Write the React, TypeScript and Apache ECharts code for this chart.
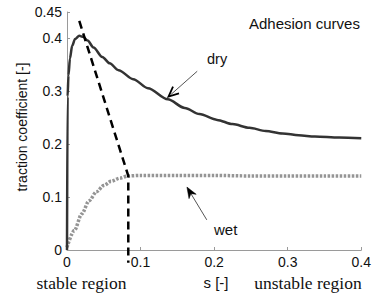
import React, { useEffect, useRef } from "react";
import * as echarts from "echarts";

// Dry adhesion curve (slip s, traction coefficient)
const drySlip = [0, 0.0008, 0.002, 0.004, 0.007, 0.011, 0.0167, 0.022, 0.028, 0.036, 0.048, 0.058, 0.07, 0.09, 0.11, 0.137, 0.16, 0.18, 0.204, 0.225, 0.248, 0.27, 0.293, 0.315, 0.337, 0.37, 0.4];
const dryTraction = [0, 0.29, 0.33, 0.362, 0.386, 0.399, 0.405, 0.403, 0.396, 0.383, 0.365, 0.353, 0.34, 0.323, 0.306, 0.285, 0.2685, 0.257, 0.246, 0.238, 0.231, 0.225, 0.2205, 0.217, 0.2145, 0.2125, 0.2115];

// Wet adhesion curve
const wetSlip = [0, 0.01, 0.02, 0.03, 0.04, 0.05, 0.06, 0.072, 0.083, 0.1, 0.15, 0.2, 0.25, 0.3, 0.35, 0.4];
const wetTraction = [0.005, 0.037, 0.068, 0.093, 0.11, 0.122, 0.13, 0.136, 0.14, 0.141, 0.141, 0.141, 0.14, 0.14, 0.14, 0.14];

// Stable / unstable boundary (dashed)
const boundarySlip = [0.0167, 0.0833, 0.0833];
const boundaryTraction = [0.433, 0.14, -0.024];

// Axis ticks
const xTicks = { min: 0, max: 0.4, interval: 0.1 };
const yTicks = { min: 0, max: 0.45, interval: 0.1 };

// Annotation arrows in data units: [tail, tip]
const dryArrow = [[0.177, 0.338], [0.138, 0.29]];
const wetArrow = [[0.19, 0.057], [0.163, 0.119]];

const SANS = "Liberation Sans, Arial, sans-serif";
const SERIF = "Liberation Serif, Times New Roman, serif";

function zip(a: number[], b: number[]) {
  return a.map((v, i) => [v, b[i]]);
}

function arrowHead(tail: number[], tip: number[], filled: boolean) {
  const dx = tip[0] - tail[0];
  const dy = tip[1] - tail[1];
  const len = Math.hypot(dx, dy);
  const ux = dx / len;
  const uy = dy / len;
  const L = filled ? 11 : 10;
  const W = filled ? 4.2 : 4.5;
  const bx = tip[0] - ux * L;
  const by = tip[1] - uy * L;
  const p1 = [bx - uy * W, by + ux * W];
  const p2 = [bx + uy * W, by - ux * W];
  const notch = [tip[0] - ux * L * 0.7, tip[1] - uy * L * 0.7];
  const elems: any[] = [
    {
      type: "line",
      shape: { x1: tail[0], y1: tail[1], x2: tip[0] - ux * 3, y2: tip[1] - uy * 3 },
      style: { stroke: "#555", lineWidth: 1 },
      z: 100,
    },
  ];
  if (filled) {
    elems.push({
      type: "polygon",
      shape: { points: [tip, p1, notch, p2] },
      style: { fill: "#000", stroke: "#000", lineWidth: 0.5 },
      z: 101,
    });
  } else {
    elems.push({
      type: "polyline",
      shape: { points: [p1, tip, p2] },
      style: { stroke: "#000", lineWidth: 1.8, fill: null },
      z: 101,
    });
  }
  return elems;
}

function text(t: string, x: number, y: number, size: number, family: string, align = "center", extra: any = {}) {
  return {
    type: "text",
    x,
    y,
    z: 100,
    ...extra,
    style: {
      text: t,
      fontSize: size,
      fontFamily: family,
      fill: "#111",
      align,
      verticalAlign: "middle",
      textAlign: align,
      textVerticalAlign: "middle",
    },
  };
}

export default function App() {
  const ref = useRef<HTMLDivElement>(null);

  useEffect(() => {
    if (!ref.current) return;
    const chart = echarts.init(ref.current, undefined, { renderer: "svg" });
    const axisCommon = {
      type: "value" as const,
      axisLine: { show: true, lineStyle: { color: "#9a9a9a", width: 1 } },
      axisTick: { show: true, inside: true, length: 3, lineStyle: { color: "#9a9a9a" } },
      splitLine: { show: false },
      axisLabel: { color: "#111", fontSize: 14, fontFamily: SANS, margin: 5 },
    };
    chart.setOption({
      animation: false,
      backgroundColor: "#fff",
      grid: { left: 67, top: 12, right: 7, bottom: 43, containLabel: false },
      xAxis: {
        ...axisCommon,
        min: xTicks.min,
        max: xTicks.max,
        interval: xTicks.interval,
      },
      yAxis: {
        ...axisCommon,
        min: yTicks.min,
        max: yTicks.max,
        interval: yTicks.interval,
      },
      series: [
        {
          type: "line",
          name: "wet",
          data: zip(wetSlip, wetTraction),
          showSymbol: false,
          smooth: 0.3,
          smoothMonotone: "x",
          clip: false,
          lineStyle: { color: "#959595", width: 3.5, type: [2.5, 1.5], cap: "butt" },
          z: 2,
        },
        {
          type: "line",
          name: "dry",
          data: zip(drySlip, dryTraction),
          showSymbol: false,
          smooth: 0.3,
          smoothMonotone: "x",
          clip: false,
          lineStyle: { color: "#333", width: 2.5 },
          z: 3,
        },
        {
          type: "line",
          name: "boundary",
          data: zip(boundarySlip, boundaryTraction),
          showSymbol: false,
          clip: false,
          lineStyle: { color: "#000", width: 2.5, type: [8, 5] },
          z: 4,
        },
      ],
    });

    const px = (p: number[]) => chart.convertToPixel({ gridIndex: 0 }, p) as number[];
    const dTail = px(dryArrow[0]);
    const dTip = px(dryArrow[1]);
    const wTail = px(wetArrow[0]);
    const wTip = px(wetArrow[1]);

    chart.setOption({
      graphic: [
        text("Adhesion curves", 249, 23, 15, SANS, "left"),
        text("dry", 207, 59, 14.5, SANS, "left"),
        text("wet", 214, 229, 15, SANS, "left"),
        text("s [-]", 216, 282, 15, SANS, "center"),
        text("stable region", 81.5, 283, 17.5, SERIF, "center"),
        text("unstable region", 308, 283, 17.5, SERIF, "center"),
        text("traction coefficient [-]", 22, 127, 14, SANS, "center", { rotation: Math.PI / 2 }),
        ...arrowHead(dTail, dTip, false),
        ...arrowHead(wTail, wTip, true),
      ],
    });

    return () => chart.dispose();
  }, []);

  return (
    <div
      ref={ref}
      style={{ position: "fixed", left: 0, top: 0, width: 374, height: 293, background: "#fff" }}
    />
  );
}
